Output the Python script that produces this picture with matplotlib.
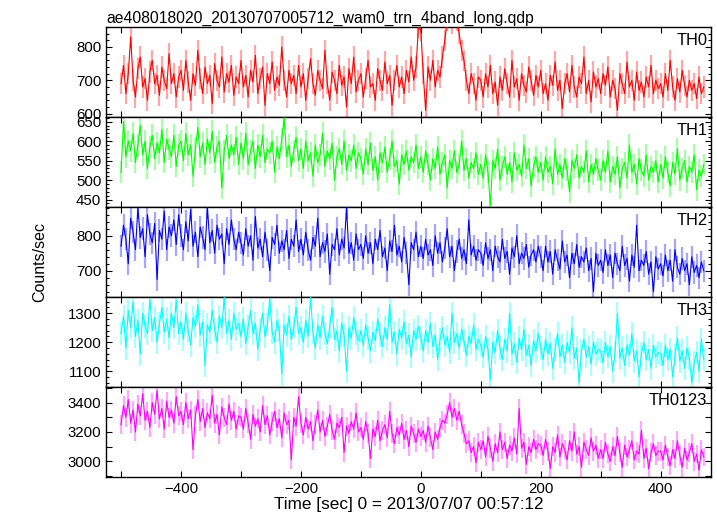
import numpy as np
import matplotlib
matplotlib.use('Agg')
import matplotlib.pyplot as plt
from matplotlib.ticker import MultipleLocator

plt.rcParams['font.family'] = ['Liberation Sans', 'DejaVu Sans']

# time grid (sec), 4 s bins
time = np.arange(-500, 473, 4)

th0 = [690, 745, 660, 720, 830, 700, 650, 735, 770, 680, 705, 640, 725, 760, 690, 715, 655, 740, 700, 675, 780, 690, 720, 650, 710,
       730, 670, 760, 695, 640, 720, 685, 790, 705, 660, 740, 690, 715, 630, 750, 700, 680, 770, 665, 720, 695, 745, 655, 710, 690,
       760, 680, 715, 650, 730, 695, 775, 660, 705, 740, 625, 720, 690, 755, 670, 710, 685, 800, 700, 650, 730, 690, 715, 660, 745,
       680, 720, 640, 705, 765, 690, 655, 730, 700, 675, 790, 690, 640, 725, 700, 660, 745, 685, 710, 620, 735, 690, 770, 665, 700,
       720, 650, 705, 760, 680, 690, 640, 735, 700, 670, 755, 690, 715, 625, 700, 745, 680, 710, 660, 730, 695, 770, 700, 740, 860,
       850, 720, 610, 740, 700, 760, 680, 730, 710, 770, 820, 880, 900, 870, 910, 880, 840, 790, 760, 700, 660, 720, 690, 640, 710,
       700, 650, 720, 680, 745, 660, 695, 625, 710, 670, 735, 690, 650, 760, 680, 705, 640, 720, 685, 665, 740, 700, 655, 715, 680,
       730, 660, 690, 640, 715, 685, 755, 670, 700, 615, 690, 720, 665, 745, 680, 650, 710, 690, 770, 660, 700, 635, 725, 680, 705,
       660, 720, 685, 740, 650, 700, 675, 610, 720, 690, 660, 755, 680, 700, 640, 725, 670, 695, 650, 710, 680, 745, 660, 700, 675,
       690, 650, 720, 670, 760, 680, 640, 705, 665, 730, 685, 650, 700, 670, 690, 645, 710, 660, 680]

th1 = [520, 650, 560, 600, 575, 620, 545, 590, 640, 565, 600, 530, 585, 615, 555, 595, 570, 630, 545, 605, 580, 560, 615, 535, 590,
       600, 550, 620, 565, 590, 510, 580, 635, 560, 595, 540, 605, 570, 625, 545, 585, 600, 480, 575, 615, 555, 590, 565, 610, 540,
       595, 555, 620, 540, 575, 600, 530, 590, 560, 615, 545, 580, 570, 600, 520, 585, 555, 605, 660, 560, 590, 535, 575, 610, 550,
       580, 530, 600, 550, 570, 510, 590, 545, 565, 620, 535, 575, 555, 595, 500, 560, 580, 540, 600, 525, 565, 550, 590, 530, 570,
       555, 515, 580, 540, 595, 525, 560, 500, 570, 545, 585, 520, 555, 600, 535, 550, 490, 565, 540, 575, 525, 560, 545, 590, 530,
       560, 520, 575, 540, 500, 555, 530, 585, 515, 545, 565, 480, 550, 530, 575, 520, 540, 600, 525, 555, 505, 545, 530, 570, 515,
       540, 505, 565, 520, 435, 550, 530, 580, 500, 535, 560, 515, 545, 495, 570, 525, 540, 510, 590, 530, 555, 485, 535, 560, 520,
       545, 500, 560, 520, 535, 490, 580, 515, 540, 505, 555, 525, 470, 550, 530, 565, 505, 535, 520, 575, 495, 540, 515, 555, 525,
       500, 550, 520, 575, 495, 535, 515, 560, 480, 530, 545, 505, 590, 520, 540, 490, 555, 525, 510, 565, 500, 535, 520, 550, 495,
       540, 505, 560, 520, 485, 545, 515, 580, 500, 530, 550, 495, 535, 520, 565, 475, 525, 510, 540]

th2 = [770, 830, 790, 720, 850, 810, 760, 880, 795, 820, 740, 860, 805, 780, 835, 675, 815, 790, 870, 760, 825, 800, 845, 775, 860,
       800, 760, 840, 785, 875, 770, 810, 740, 825, 795, 760, 880, 780, 815, 750, 830, 790, 805, 720, 820, 775, 845, 790, 760, 810,
       780, 745, 820, 770, 800, 730, 855, 765, 790, 740, 810, 760, 700, 795, 775, 830, 750, 785, 760, 815, 735, 790, 770, 845, 755,
       790, 745, 810, 760, 730, 795, 770, 850, 740, 780, 755, 805, 690, 775, 760, 820, 745, 790, 765, 880, 750, 780, 730, 805, 760,
       775, 735, 800, 750, 780, 720, 790, 760, 815, 740, 765, 700, 785, 755, 830, 745, 770, 725, 795, 750, 660, 780, 760, 810, 740,
       770, 735, 790, 745, 760, 715, 800, 750, 780, 725, 765, 820, 740, 770, 700, 755, 790, 735, 760, 720, 845, 745, 770, 730, 760,
       750, 715, 780, 735, 760, 700, 770, 740, 725, 790, 735, 755, 690, 765, 740, 800, 720, 750, 735, 775, 710, 745, 760, 725, 770,
       740, 700, 770, 725, 755, 690, 760, 730, 705, 785, 725, 745, 680, 750, 720, 775, 710, 740, 725, 765, 700, 735, 640, 750, 715,
       730, 695, 760, 715, 745, 680, 750, 720, 700, 770, 715, 735, 670, 745, 710, 830, 700, 730, 715, 755, 690, 725, 640, 740, 705,
       720, 685, 745, 700, 730, 670, 760, 710, 690, 735, 700, 720, 660, 740, 695, 715, 680, 725, 700]

th3 = [1230, 1290, 1180, 1310, 1250, 1340, 1220, 1275, 1160, 1300, 1255, 1230, 1350, 1240, 1285, 1200, 1265, 1320, 1235, 1280, 1215, 1300, 1250, 1345, 1230,
       1270, 1210, 1300, 1240, 1190, 1285, 1255, 1330, 1225, 1270, 1120, 1260, 1235, 1310, 1245, 1200, 1290, 1250, 1355, 1230, 1275, 1210, 1300, 1245, 1265,
       1220, 1280, 1195, 1255, 1310, 1230, 1265, 1175, 1245, 1300, 1220, 1260, 1350, 1235, 1200, 1275, 1240, 1090, 1260, 1225, 1290, 1210, 1250, 1320, 1230,
       1250, 1200, 1275, 1220, 1355, 1235, 1180, 1260, 1215, 1290, 1230, 1195, 1255, 1320, 1210, 1240, 1170, 1265, 1225, 1100, 1250, 1215, 1285, 1230, 1205,
       1240, 1190, 1260, 1215, 1170, 1235, 1205, 1280, 1225, 1185, 1250, 1210, 1330, 1200, 1235, 1160, 1245, 1215, 1270, 1195, 1225, 1150, 1240, 1210, 1255,
       1215, 1170, 1240, 1200, 1265, 1185, 1225, 1140, 1210, 1250, 1190, 1220, 1165, 1300, 1200, 1230, 1180, 1245, 1205, 1155, 1220, 1195, 1260, 1175, 1210,
       1190, 1150, 1220, 1175, 1070, 1200, 1165, 1240, 1180, 1140, 1210, 1170, 1300, 1160, 1195, 1130, 1215, 1175, 1245, 1155, 1190, 1120, 1205, 1170, 1230,
       1180, 1140, 1210, 1160, 1195, 1110, 1175, 1230, 1150, 1190, 1130, 1200, 1165, 1250, 1145, 1180, 1060, 1170, 1210, 1150, 1185, 1125, 1200, 1160, 1175,
       1170, 1130, 1200, 1150, 1185, 1100, 1165, 1300, 1145, 1180, 1120, 1190, 1155, 1230, 1135, 1170, 1080, 1160, 1200, 1140, 1175, 1110, 1190, 1150, 1165,
       1160, 1120, 1190, 1140, 1175, 1080, 1155, 1215, 1135, 1170, 1110, 1180, 1145, 1060, 1130, 1165, 1100, 1210, 1140]

th0123 = [3250, 3380, 3300, 3420, 3260, 3350, 3200, 3390, 3310, 3460, 3280, 3340, 3230, 3400, 3320, 3480, 3290, 3360, 3220, 3410, 3300, 3350, 3260, 3440, 3310,
          3340, 3250, 3400, 3290, 3350, 3080, 3310, 3420, 3270, 3360, 3230, 3330, 3290, 3450, 3260, 3320, 3180, 3370, 3300, 3250, 3390, 3280, 3340, 3220, 3310,
          3300, 3220, 3360, 3260, 3150, 3320, 3240, 3290, 3200, 3380, 3250, 3310, 3180, 3270, 3340, 3230, 3290, 3160, 3330, 3250, 3280, 3010, 3300, 3240, 3440,
          3260, 3180, 3300, 3220, 3270, 3140, 3250, 3350, 3200, 3280, 3170, 3240, 3320, 3210, 3150, 3260, 3230, 3300, 3060, 3240, 3190, 3270, 3220, 3330, 3200,
          3230, 3150, 3270, 3190, 3020, 3220, 3170, 3280, 3140, 3210, 3250, 3160, 3340, 3190, 3120, 3230, 3180, 3260, 3150, 3210, 3100, 3240, 3190, 3130, 3220,
          3170, 3210, 3130, 3240, 3160, 3080, 3200, 3150, 3230, 3280, 3260, 3320, 3400, 3300, 3360, 3280, 3340, 3250, 3190, 3120, 3140, 3060, 3100, 2990, 3130,
          3080, 3140, 3030, 3170, 3090, 3000, 3120, 3060, 3200, 3080, 3130, 3020, 3110, 3070, 3160, 3050, 3360, 3090, 3130, 2980, 3100, 3060, 3150, 3080, 3120,
          3110, 3040, 3150, 3070, 2950, 3100, 3060, 3180, 3030, 3120, 3080, 3010, 3140, 3070, 3200, 3050, 3100, 2960, 3130, 3080, 3040, 3160, 3070, 3110, 3020,
          3080, 3020, 3130, 3050, 3000, 3100, 3040, 3170, 3060, 2960, 3110, 3030, 3080, 3140, 3010, 3070, 3050, 3210, 3020, 3090, 2950, 3060, 3120, 3040, 3070,
          3070, 3010, 3110, 3030, 2970, 3080, 3020, 3140, 3040, 2960, 3090, 3010, 3060, 3120, 3000, 3050, 2940, 3080, 3030]

bands = ['TH0', 'TH1', 'TH2', 'TH3', 'TH0123']
series = [th0, th1, th2, th3, th0123]
errors = [32, 28, 32, 40, 64]
colors = ['#ff0000', '#00ff00', '#0000ff', '#00ffff', '#ff00ff']
ylims = [(590, 860), (431, 662), (625, 882), (1046, 1356), (2894, 3506)]
ymajor = [100, 50, 100, 100, 200]
yminor = [20, 10, 20, 20, 100]

fig, axes = plt.subplots(5, 1, sharex=True, figsize=(7.17, 5.16), dpi=100)
fig.subplots_adjust(left=0.148, right=0.9916, top=0.9477, bottom=0.0756, hspace=0)

for i, ax in enumerate(axes):
    # error bars in a lighter shade, data line on top
    ax.errorbar(time, series[i], yerr=errors[i], fmt='none', ecolor=colors[i],
                elinewidth=1.6, alpha=0.35, capsize=0, zorder=2)
    ax.plot(time, series[i], color=colors[i], lw=0.8, zorder=3)
    ax.set_ylim(ylims[i])
    ax.set_xlim(-525, 484)
    ax.yaxis.set_major_locator(MultipleLocator(ymajor[i]))
    ax.yaxis.set_minor_locator(MultipleLocator(yminor[i]))
    ax.xaxis.set_major_locator(MultipleLocator(200))
    ax.xaxis.set_minor_locator(MultipleLocator(100))
    ax.tick_params(which='both', direction='in', top=True, right=True, labelsize=10.8, width=0.8)
    ax.tick_params(axis='x', which='both', length=4.5)
    ax.tick_params(axis='y', which='major', length=4.5)
    ax.tick_params(axis='y', which='minor', length=4.5 if i == 4 else 2.3)
    for s in ax.spines.values():
        s.set_linewidth(1.0)
    ax.text(0.994, 0.935, bands[i], transform=ax.transAxes, ha='right', va='top', fontsize=11.8)

axes[0].set_title('ae408018020_20130707005712_wam0_trn_4band_long.qdp', loc='left', fontsize=11.3, pad=3)
axes[-1].set_xlabel('Time [sec] 0 = 2013/07/07 00:57:12', fontsize=12.3, labelpad=1)
fig.text(40 / 717, 1 - 262 / 516, 'Counts/sec', rotation=90, ha='center', va='center', fontsize=11.5)

plt.savefig('out.png', dpi=100)
